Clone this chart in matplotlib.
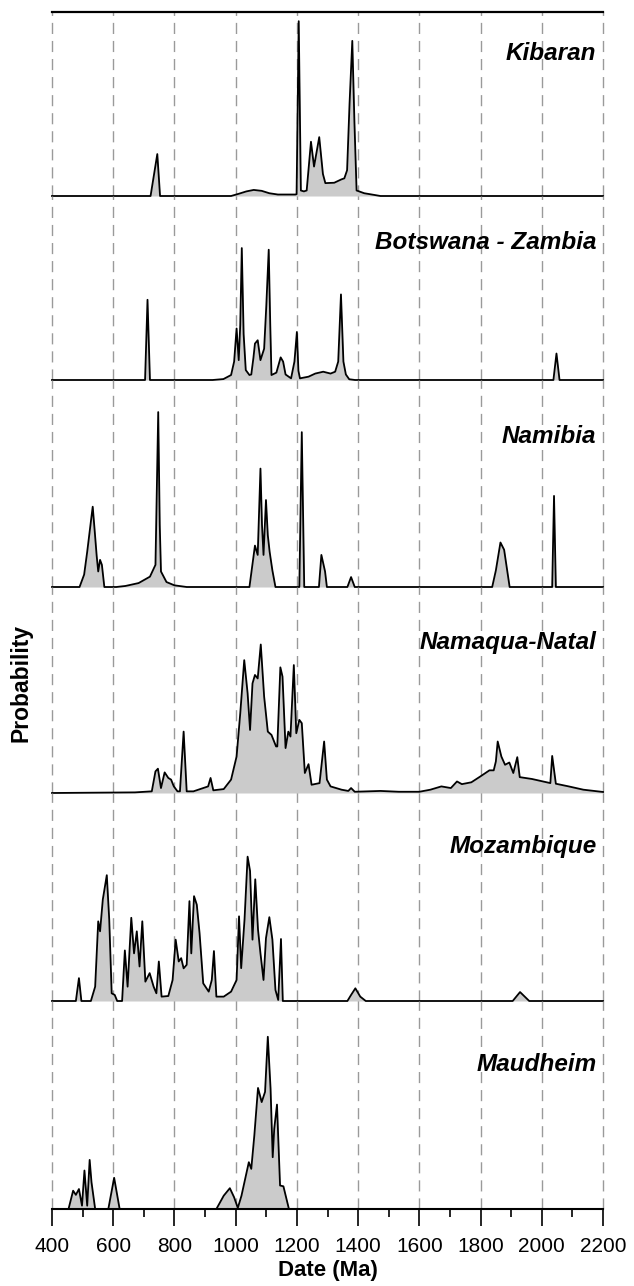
import matplotlib
matplotlib.use("Agg")
import matplotlib.pyplot as plt
from matplotlib.ticker import MultipleLocator

plt.rcParams['font.family'] = ['Liberation Sans', 'DejaVu Sans']

# ---- data (age in Ma, relative probability 0..1 of panel height) ----
panel_names = ["Kibaran", "Botswana - Zambia", "Namibia", "Namaqua-Natal", "Mozambique", "Maudheim"]

kibaran_age = [400, 722, 744, 753, 985, 1010, 1035, 1059, 1085, 1110, 1138, 1195, 1199, 1206, 1213,
               1223, 1232, 1246, 1256, 1273, 1285, 1293, 1322, 1345, 1355, 1364, 1372, 1381, 1388,
               1395, 1420, 1445, 1473, 2200]
kibaran_prob = [0, 0, 0.228, 0, 0, 0.012, 0.025, 0.033, 0.028, 0.015, 0.008, 0.008, 0.01, 0.95, 0.03,
                0.025, 0.03, 0.295, 0.16, 0.32, 0.12, 0.07, 0.072, 0.09, 0.096, 0.14, 0.5, 0.843, 0.4,
                0.03, 0.015, 0.008, 0, 0]

botswana_age = [400, 704, 712, 720, 925, 960, 985, 995, 1003, 1010, 1015, 1020, 1026, 1033, 1045,
                1051, 1058, 1063, 1072, 1081, 1093, 1100, 1108, 1113, 1117, 1133, 1147, 1155, 1163,
                1181, 1192, 1200, 1205, 1210, 1238, 1260, 1286, 1310, 1325, 1335, 1344, 1352, 1360,
                1371, 1390, 2038, 2048, 2058, 2200]
botswana_prob = [0, 0, 0.436, 0, 0, 0.005, 0.027, 0.1, 0.28, 0.108, 0.3, 0.717, 0.25, 0.054, 0.027,
                 0.03, 0.12, 0.198, 0.216, 0.108, 0.17, 0.4, 0.708, 0.3, 0.027, 0.04, 0.123, 0.1, 0.03,
                 0.009, 0.1, 0.261, 0.05, 0.009, 0.018, 0.035, 0.045, 0.035, 0.045, 0.1, 0.465, 0.1, 0.03,
                 0.004, 0, 0, 0.144, 0, 0]

namibia_age = [400, 490, 505, 515, 527, 533, 539, 546, 551, 557, 563, 571, 610, 640, 683, 720, 738,
               747, 752, 756, 774, 800, 840, 1045, 1063, 1072, 1081, 1086, 1091, 1099, 1105, 1111,
               1120, 1130, 1208, 1216, 1224, 1272, 1280, 1292, 1298, 1365, 1377, 1389, 1838, 1850,
               1865, 1877, 1887, 1895, 2034, 2040, 2046, 2200]
namibia_prob = [0, 0, 0.06, 0.17, 0.316, 0.388, 0.28, 0.15, 0.075, 0.131, 0.107, 0, 0, 0.005, 0.019,
                0.05, 0.107, 0.845, 0.3, 0.075, 0.024, 0.008, 0, 0, 0.2, 0.155, 0.572, 0.3, 0.155,
                0.42, 0.25, 0.17, 0.08, 0, 0, 0.748, 0, 0, 0.155, 0.075, 0, 0, 0.048, 0, 0, 0.08,
                0.215, 0.18, 0.08, 0, 0, 0.44, 0, 0]

namaqua_age = [400, 671, 726, 738, 746, 756, 768, 780, 789, 798, 810, 818, 830, 840, 862, 910, 918,
               927, 961, 985, 1003, 1015, 1028, 1039, 1047, 1055, 1063, 1072, 1082, 1093, 1105, 1117,
               1132, 1136, 1146, 1153, 1163, 1172, 1179, 1190, 1198, 1208, 1216, 1226, 1238, 1248,
               1274, 1289, 1298, 1310, 1346, 1368, 1377, 1389, 1473, 1533, 1600, 1636, 1672, 1703,
               1723, 1739, 1770, 1800, 1829, 1843, 1850, 1856, 1868, 1880, 1894, 1907, 1920, 1928,
               1968, 2028, 2034, 2046, 2088, 2136, 2200]
namaqua_prob = [0, 0.003, 0.008, 0.105, 0.118, 0.024, 0.1, 0.073, 0.065, 0.032, 0.008, 0.008, 0.298,
                0.008, 0.008, 0.032, 0.073, 0.013, 0.019, 0.065, 0.177, 0.387, 0.645, 0.484, 0.306,
                0.532, 0.573, 0.556, 0.721, 0.468, 0.298, 0.282, 0.226, 0.226, 0.61, 0.565, 0.218,
                0.298, 0.274, 0.621, 0.29, 0.355, 0.339, 0.097, 0.14, 0.04, 0.048, 0.25, 0.065, 0.032,
                0.016, 0.01, 0.024, 0.006, 0.01, 0.006, 0.006, 0.016, 0.032, 0.024, 0.056, 0.043,
                0.052, 0.081, 0.11, 0.11, 0.153, 0.25, 0.177, 0.137, 0.148, 0.097, 0.174, 0.077,
                0.068, 0.048, 0.18, 0.045, 0.032, 0.016, 0.005]

mozambique_age = [400, 478, 488, 496, 527, 541, 551, 557, 566, 579, 587, 595, 605, 613, 629, 638, 647,
                  659, 668, 677, 686, 695, 705, 719, 732, 741, 749, 758, 780, 794, 804, 814, 822, 830,
                  840, 849, 855, 864, 873, 882, 894, 912, 922, 929, 937, 961, 985, 1003, 1011, 1018,
                  1029, 1039, 1047, 1055, 1064, 1073, 1081, 1091, 1099, 1110, 1120, 1130, 1139, 1148,
                  1154, 1365, 1377, 1391, 1407, 1425, 1905, 1929, 1959, 2200]
mozambique_prob = [0, 0, 0.11, 0, 0, 0.069, 0.383, 0.335, 0.488, 0.605, 0.391, 0.037, 0.029, 0, 0,
                   0.243, 0.069, 0.4, 0.229, 0.335, 0.166, 0.383, 0.093, 0.134, 0.069, 0.037, 0.19,
                   0.021, 0.024, 0.101, 0.295, 0.19, 0.206, 0.157, 0.174, 0.48, 0.229, 0.504, 0.463,
                   0.327, 0.085, 0.045, 0.101, 0.24, 0.021, 0.021, 0.045, 0.101, 0.407, 0.158, 0.393,
                   0.694, 0.625, 0.295, 0.585, 0.343, 0.229, 0.101, 0.302, 0.403, 0.295, 0.053, 0.005,
                   0.298, 0, 0, 0.029, 0.061, 0.021, 0, 0, 0.043, 0, 0]

maudheim_age = [400, 454, 469, 478, 488, 498, 506, 515, 523, 529, 541, 584, 603, 621, 937, 961, 981,
                995, 1007, 1019, 1043, 1051, 1061, 1073, 1085, 1096, 1105, 1114, 1121, 1126, 1135,
                1145, 1156, 1174, 2200]
maudheim_prob = [0, 0, 0.088, 0.068, 0.096, 0.016, 0.185, 0.016, 0.236, 0.129, 0, 0, 0.15, 0, 0,
                 0.064, 0.1, 0.056, 0.005, 0.064, 0.225, 0.193, 0.354, 0.582, 0.514, 0.563, 0.828,
                 0.579, 0.249, 0.386, 0.502, 0.113, 0.109, 0, 0]

ages = [kibaran_age, botswana_age, namibia_age, namaqua_age, mozambique_age, maudheim_age]
probs = [kibaran_prob, botswana_prob, namibia_prob, namaqua_prob, mozambique_prob, maudheim_prob]
label_y = [0.777, 0.745, 0.725, 0.733, 0.745, 0.697]

# ---- layout (pixel rows of panel edges in the 634x1286 picture) ----
W, H = 634, 1286
edges = [12, 196, 380, 587, 793, 1001, 1209]
left, right = 52 / W, 603 / W

fig = plt.figure(figsize=(W / 100, H / 100), dpi=100)
axes = []
for i in range(6):
    top_px, bot_px = edges[i], edges[i + 1]
    ax = fig.add_axes([left, 1 - bot_px / H, right - left, (bot_px - top_px) / H])
    axes.append(ax)

for i, ax in enumerate(axes):
    x, y = ages[i], probs[i]
    ax.set_xlim(400, 2200)
    ax.set_ylim(0, 1)
    for g in range(400, 2201, 200):
        ax.axvline(g, color='#9a9a9a', lw=1.0, dashes=(8, 5), zorder=0, clip_on=False)
    ax.fill_between(x, y, 0, color='#cbcbcb', lw=0, zorder=1)
    ax.plot(x, y, color='black', lw=1.3, zorder=2, clip_on=False)
    ax.text(0.988, label_y[i], panel_names[i], transform=ax.transAxes, ha='right', va='center',
            fontsize=17.5, fontweight='bold', style='italic')
    for s in ax.spines.values():
        s.set_visible(False)
    ax.set_yticks([])
    ax.patch.set_alpha(0)
    if i < 5:
        ax.set_xticks([])

# solid line along the top of the first panel
axes[0].spines['top'].set_visible(True)
axes[0].spines['top'].set_linewidth(1.6)

# bottom axis with ticks
ax = axes[-1]
ax.spines['bottom'].set_visible(True)
ax.spines['bottom'].set_linewidth(1.5)
ax.xaxis.set_major_locator(MultipleLocator(200))
ax.xaxis.set_minor_locator(MultipleLocator(100))
ax.tick_params(axis='x', which='major', direction='out', length=12, width=1.2, labelsize=15, pad=8)
ax.tick_params(axis='x', which='minor', direction='out', length=5.5, width=1.2)
ax.set_xlabel("Date (Ma)", fontsize=16, fontweight='bold', labelpad=3)

fig.text(21 / W, 1 - 683 / H, "Probability", rotation=90, ha='center', va='center',
         fontsize=16.5, fontweight='bold')

fig.savefig("out.png", dpi=100)
